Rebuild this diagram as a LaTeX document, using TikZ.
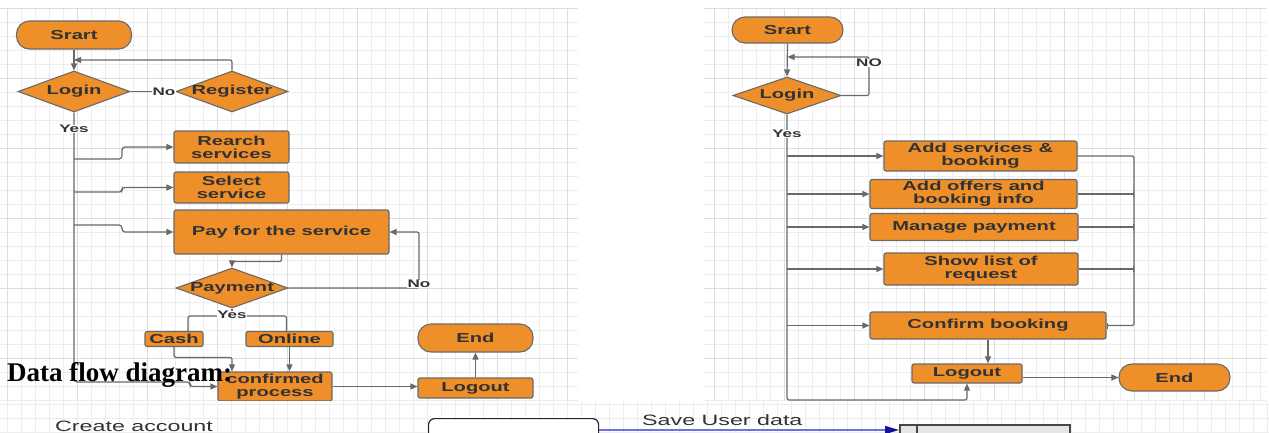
\documentclass[tikz,border=0pt]{standalone}
\usepackage{fontspec}
\setmainfont{Liberation Serif}
\newfontfamily\chartbold[FakeStretch=1.55]{Liberation Sans Bold}
\newfontfamily\chartplain[FakeStretch=1.55]{Liberation Sans}
\usetikzlibrary{positioning,shapes,arrows.meta}

\definecolor{boxorange}{RGB}{238,143,42}
\definecolor{edgegray}{RGB}{105,105,105}
\definecolor{inkgray}{RGB}{50,50,50}
\definecolor{gridminor}{RGB}{237,237,237}
\definecolor{gridmajor}{RGB}{221,221,221}
\definecolor{flowblue}{RGB}{112,112,228}
\definecolor{tipblue}{RGB}{20,20,150}

\begin{document}
\begin{tikzpicture}[x=1pt,y=-1pt,
  flowbox/.style={draw=edgegray,fill=boxorange,rounded corners=2pt,line width=1.1pt,inner sep=0pt,
    align=center,text=inkgray,font=\chartbold\fontsize{13}{13}\selectfont},
  flowterm/.style={flowbox,rounded corners=13pt},
  flowdecide/.style={diamond,draw=edgegray,fill=boxorange,line width=1.1pt,inner sep=0pt,
    text=inkgray,font=\chartbold\fontsize{13}{13}\selectfont},
  flowline/.style={draw=edgegray,line width=1.2pt},
  flowarrow/.style={flowline,-{Triangle[length=7pt,width=6pt]}},
  flowlabel/.style={fill=white,inner sep=0.5pt,text=inkgray,font=\chartbold\fontsize{11}{11}\selectfont},
  gridthin/.style={draw=gridminor,line width=0.7pt},
  gridthick/.style={draw=gridmajor,line width=0.9pt}]

\useasboundingbox (0,0) rectangle (1269,432);
\clip (0,0) rectangle (1269,432);
\fill[white] (0,0) rectangle (1269,432);

% grid paper, left chart
\foreach \gx in {7,21,...,577} \draw[gridthin] (\gx,8) -- (\gx,400);
\foreach \gy in {8,22,...,400} \draw[gridthin] (0,\gy) -- (578,\gy);
\foreach \gx in {7,77,...,577} \draw[gridthick] (\gx,8) -- (\gx,400);
\foreach \gy in {8,78,...,400} \draw[gridthick] (0,\gy) -- (578,\gy);
% grid paper, right chart
\foreach \gx in {714,728,...,1266} \draw[gridthin] (\gx,8) -- (\gx,400);
\foreach \gy in {8,22,...,400} \draw[gridthin] (704,\gy) -- (1267,\gy);
\foreach \gx in {714,784,...,1266} \draw[gridthick] (\gx,8) -- (\gx,400);
\foreach \gy in {8,78,...,400} \draw[gridthick] (704,\gy) -- (1267,\gy);

% user side
\node[flowterm,minimum width=115pt,minimum height=28pt] (srartL) at (74,35) {Srart};
\node[flowdecide,minimum width=112pt,minimum height=41pt] (loginL) at (74,91.5) {\makebox[0pt]{Login}};
\node[flowdecide,minimum width=112pt,minimum height=41pt] (registerL) at (232,91.5) {\makebox[0pt]{Register}};
\node[flowbox,minimum width=115pt,minimum height=32pt] (rearchL) at (231.5,147) {Rearch\\services};
\node[flowbox,minimum width=115pt,minimum height=31pt] (selectL) at (231.5,187.5) {Select\\service};
\node[flowbox,minimum width=215pt,minimum height=44pt] (payL) at (281.5,232) {Pay for the service};
\node[flowdecide,minimum width=112pt,minimum height=40pt] (paymentL) at (232,288) {\makebox[0pt]{Payment}};
\node[flowbox,minimum width=58pt,minimum height=15pt] (cashL) at (174,339) {Cash};
\node[flowbox,minimum width=87pt,minimum height=15pt] (onlineL) at (289.5,339) {Online};
\node[flowbox,minimum width=114pt,minimum height=29pt] (confirmedL) at (275,386.5) {confirmed\\process};
\node[flowbox,minimum width=115pt,minimum height=20pt] (logoutL) at (475.5,388) {Logout};
\node[flowterm,minimum width=115pt,minimum height=28pt] (endL) at (475.5,338) {End};

\coordinate (backL) at (74,60);
\coordinate (trunkL) at (190,382);
\coordinate (jogA) at (122,159);
\coordinate (jogB) at (122,192);
\coordinate (jogC) at (122,225);
\coordinate (noL) at (419,260);
\coordinate (yesbus) at (232,316);

\draw[flowarrow] (srartL.south) -- (loginL.north);
\draw[flowline] (loginL.east) -- (registerL.west);
\node[flowlabel] (noL1) at (164,91.5) {No};
\draw[flowarrow,rounded corners=2pt] (registerL.north) |- (backL);
\draw[flowarrow,rounded corners=3pt] (loginL.south) |- (trunkL) |- (confirmedL.west);
\node[flowlabel] (yesL1) at (74,129) {Yes};
\draw[flowarrow,rounded corners=3pt] (loginL.south |- jogA) -- (jogA) |- (rearchL.west);
\draw[flowarrow,rounded corners=3pt] (loginL.south |- jogB) -- (jogB) |- (selectL.west);
\draw[flowarrow,rounded corners=3pt] (loginL.south |- jogC) -- (jogC) |- (payL.west);
\draw[flowarrow,rounded corners=2pt] (payL.south) -- ++(0,7) -| (paymentL.north);
\draw[flowarrow,rounded corners=2pt] (paymentL.east) -| (noL) |- (payL.east);
\node[flowlabel] (noL2) at (419,284) {No};
\draw[flowline] (paymentL.south) -- (yesbus);
\draw[flowline,rounded corners=2pt] ([xshift=14pt]cashL.north) |- (yesbus) -| ([xshift=-3pt]onlineL.north);
\node[flowlabel] (yesL2) at (232,315) {Yes};
\draw[flowarrow,rounded corners=2pt] (cashL.south) |- ([xshift=-43pt,yshift=14pt]confirmedL.north) -- ([xshift=-43pt]confirmedL.north);
\draw[flowarrow] (onlineL.south) -- (onlineL.south |- confirmedL.north);
\draw[flowarrow] (confirmedL.east) -- (confirmedL.east -| logoutL.west);
\draw[flowarrow] (logoutL.north) -- (endL.south);

% provider side
\node[flowterm,minimum width=111pt,minimum height=26pt] (srartR) at (787.5,30) {Srart};
\node[flowdecide,minimum width=108pt,minimum height=37pt] (loginR) at (787,95.5) {\makebox[0pt]{Login}};
\node[flowbox,minimum width=193pt,minimum height=30pt] (addsvcR) at (980.5,156) {Add services \&\\booking};
\node[flowbox,minimum width=207pt,minimum height=29pt] (addoffR) at (973.5,194) {Add offers and\\booking info};
\node[flowbox,minimum width=208pt,minimum height=27pt] (manageR) at (974,227) {Manage payment};
\node[flowbox,minimum width=194pt,minimum height=32pt] (showR) at (981,269) {Show list of\\request};
\node[flowbox,minimum width=236pt,minimum height=27pt] (confirmR) at (988,325.5) {Confirm booking};
\node[flowbox,minimum width=110pt,minimum height=19pt] (logoutR) at (967,373.5) {Logout};
\node[flowterm,minimum width=111pt,minimum height=27pt] (endR) at (1174.5,377.5) {End};

\coordinate (loopR) at (869,57);
\coordinate (trunkR) at (967,400);
\coordinate (busR) at (1134,325.5);

\draw[flowarrow] (srartR.south) -- (loginR.north);
\draw[flowarrow,rounded corners=2pt] (loginR.east) -| (loopR) -- (srartR.south |- loopR);
\node[flowlabel] (noR) at (869,63) {NO};
\draw[flowarrow,rounded corners=2pt] (loginR.south) |- (trunkR) -- (logoutR.south);
\node[flowlabel] (yesR) at (787,134) {Yes};
\foreach \step in {addsvcR,addoffR,manageR,showR,confirmR}
  \draw[flowarrow] (loginR.south |- \step.west) -- (\step.west);
\draw[flowline,-{Bar[width=6pt]},rounded corners=2pt] (addsvcR.east) -| (busR) -- (confirmR.east);
\foreach \step in {addoffR,manageR,showR}
  \draw[flowline,-{Bar[width=6pt]}] (\step.east) -- (\step.east -| busR);
\draw[flowarrow] (confirmR.south) -- (confirmR.south |- logoutR.north);
\draw[flowarrow] (endR.west -| logoutR.east) -- (endR.west);

% heading over the page
\node[anchor=base west,inner sep=0pt,font=\bfseries\fontsize{27}{27}\selectfont] (dfdtitle) at (7,381) {Data flow diagram:};

% data flow diagram, top edge
\fill[white] (0,401) rectangle (1269,432);
\foreach \gx in {7,21,...,1267} \draw[gridthin] (\gx,401) -- (\gx,432);
\foreach \gy in {404,418,432} \draw[gridthin] (0,\gy) -- (1269,\gy);

\coordinate (savept) at (0,430);
\node[anchor=base west,inner sep=0pt,text=inkgray,font=\chartplain\fontsize{15}{15}\selectfont] (createlbl) at (55,431) {Create account};
\node[draw=black!85,line width=1.2pt,rounded corners=6pt,fill=white,minimum width=170pt,minimum height=40pt,anchor=north west] (userent) at (428,418) {};
\node[anchor=base west,inner sep=0pt,text=inkgray,font=\chartplain\fontsize{15}{15}\selectfont] (savelbl) at (642,425) {Save User data};
\node[draw=gray!55!black,line width=1.5pt,fill=gray!20,minimum width=170pt,minimum height=20pt,anchor=north west,inner sep=0pt] (userstore) at (899,424) {};
\draw[gray!55!black,line width=1.2pt] ([xshift=18pt]userstore.north west) -- ([xshift=18pt]userstore.south west);
\draw[flowblue,line width=1.3pt,-{Triangle[length=14pt,width=8pt,color=tipblue]}] (userent.east |- savept) -- (userstore.west |- savept);
\end{tikzpicture}
\end{document}
